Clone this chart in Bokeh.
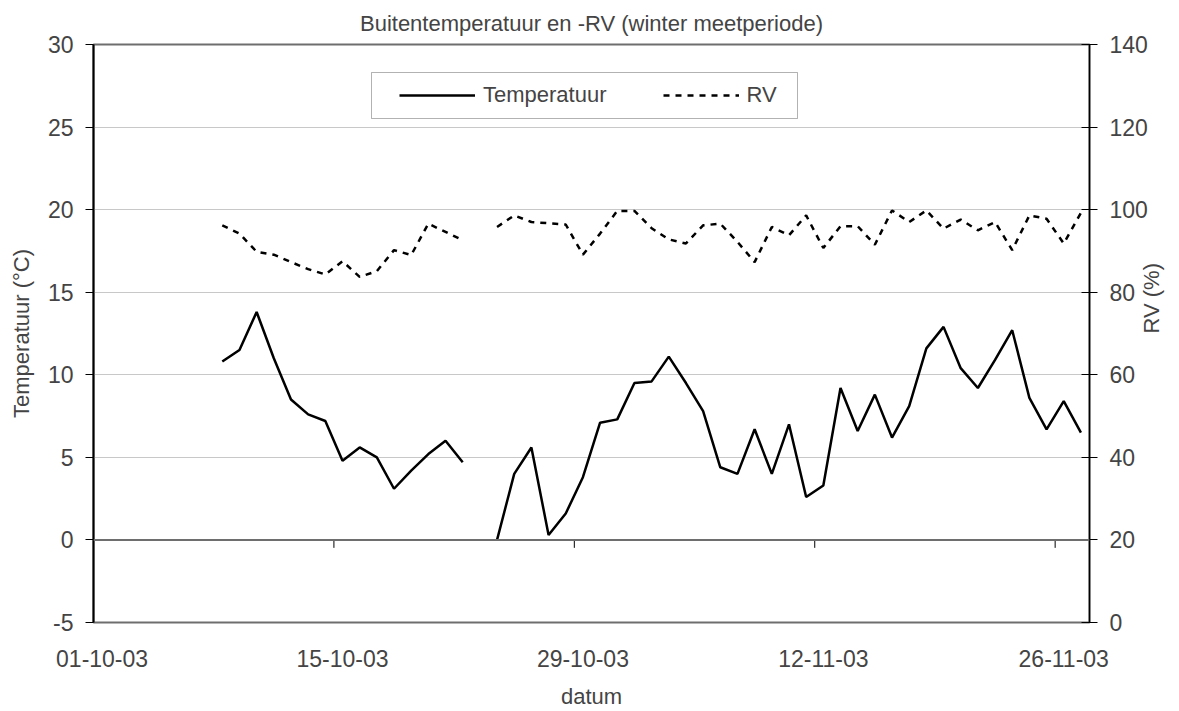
import numpy as np
import pandas as pd
from math import pi
from bokeh.plotting import figure
from bokeh.models import (Range1d, LinearAxis, FixedTicker, DatetimeTickFormatter,
                          Span, BoxAnnotation, ColumnDataSource)
from bokeh.embed import file_html
from bokeh.resources import INLINE

# ---------------- data ----------------
dates = ["08-10-2003", "09-10-2003", "10-10-2003", "11-10-2003", "12-10-2003",
         "13-10-2003", "14-10-2003", "15-10-2003", "16-10-2003", "17-10-2003",
         "18-10-2003", "19-10-2003", "20-10-2003", "21-10-2003", "22-10-2003",
         "23-10-2003", "24-10-2003", "25-10-2003", "26-10-2003", "27-10-2003",
         "28-10-2003", "29-10-2003", "30-10-2003", "31-10-2003", "01-11-2003",
         "02-11-2003", "03-11-2003", "04-11-2003", "05-11-2003", "06-11-2003",
         "07-11-2003", "08-11-2003", "09-11-2003", "10-11-2003", "11-11-2003",
         "12-11-2003", "13-11-2003", "14-11-2003", "15-11-2003", "16-11-2003",
         "17-11-2003", "18-11-2003", "19-11-2003", "20-11-2003", "21-11-2003",
         "22-11-2003", "23-11-2003", "24-11-2003", "25-11-2003", "26-11-2003",
         "27-11-2003"]

temperatuur = [10.8, 11.5, 13.8, 11.0, 8.5, 7.6, 7.2, 4.8, 5.6, 5.0,
               3.1, 4.2, 5.2, 6.0, 4.7, None, 0.0, 4.0, 5.6, 0.3,
               1.6, 3.8, 7.1, 7.3, 9.5, 9.6, 11.1, 9.5, 7.8, 4.4,
               4.0, 6.7, 4.0, 7.0, 2.6, 3.3, 9.2, 6.6, 8.8, 6.2,
               8.1, 11.6, 12.9, 10.4, 9.2, 10.9, 12.7, 8.6, 6.7, 8.4,
               6.5]

rv = [96.2, 94.2, 89.8, 89.1, 87.3, 85.6, 84.3, 87.5, 83.7, 85.1,
      90.2, 89.0, 96.6, 94.6, 92.6, None, 95.8, 98.6, 97.0, 96.7,
      96.4, 89.1, 94.2, 99.7, 99.7, 95.5, 92.8, 91.8, 96.2, 96.6,
      92.2, 87.3, 95.8, 93.8, 98.6, 90.7, 96.0, 96.0, 91.5, 99.8,
      97.0, 99.8, 95.4, 97.6, 95.0, 97.0, 90.2, 98.6, 97.8, 91.8,
      99.2]

tick_dates = ["01-10-2003", "15-10-2003", "29-10-2003", "12-11-2003", "26-11-2003"]
x_start, x_end = "01-10-2003", "28-11-2003"
temp_ticks = [-5, 0, 5, 10, 15, 20, 25, 30]
rv_ticks = [0, 20, 40, 60, 80, 100, 120, 140]

# ---------------- build ----------------
FONT = "Liberation Sans"
TICK_SIZE = "23px"
TEXT_SIZE = "22px"
half_day = pd.Timedelta(hours=12)  # Excel date axis: points centred within their day
x = pd.to_datetime(dates, format="%d-%m-%Y") + half_day
src = ColumnDataSource(dict(
    x=x,
    t=np.array([np.nan if v is None else v for v in temperatuur], dtype=float),
    rv=np.array([np.nan if v is None else v for v in rv], dtype=float),
))

tick_dt = pd.to_datetime(tick_dates, format="%d-%m-%Y")
label_ms = [(d + half_day).value / 1e6 for d in tick_dt]

p = figure(width=1179, height=711, x_axis_type="datetime",
           x_range=Range1d(pd.to_datetime(x_start, format="%d-%m-%Y"),
                           pd.to_datetime(x_end, format="%d-%m-%Y")),
           y_range=Range1d(temp_ticks[0], temp_ticks[-1]),
           output_backend="svg", toolbar_location=None,
           min_border_left=93, min_border_right=89,
           min_border_top=42, min_border_bottom=89,
           background_fill_color="white", border_fill_color="white")
p.extra_y_ranges = {"rv": Range1d(rv_ticks[0], rv_ticks[-1])}

p.title.text = "Buitentemperatuur en -RV (winter meetperiode)"
p.title.align = "center"
p.title.text_font = FONT
p.title.text_font_size = TEXT_SIZE
p.title.text_font_style = "normal"
p.title.standoff = 17

p.outline_line_color = "#6e6e6e"
p.outline_line_width = 2

p.xgrid.visible = False
p.ygrid.ticker = FixedTicker(ticks=[v for v in temp_ticks if v not in (temp_ticks[0], 0, temp_ticks[-1])])
p.ygrid.grid_line_color = "#c8c8c8"
p.ygrid.grid_line_width = 1

# left axis
ya = p.yaxis[0]
ya.ticker = FixedTicker(ticks=temp_ticks)
ya.major_label_overrides = {v: str(v) for v in temp_ticks}
ya.axis_label = "Temperatuur (°C)"
ya.axis_line_color = "black"
ya.axis_line_width = 2
ya.major_tick_in = 0
ya.major_tick_out = 8
ya.major_tick_line_color = "black"
ya.minor_tick_line_color = None
ya.major_label_standoff = 12
ya.axis_label_standoff = 11
ya.major_label_text_font = FONT
ya.major_label_text_font_size = TICK_SIZE
ya.axis_label_text_font = FONT
ya.axis_label_text_font_size = TEXT_SIZE
ya.axis_label_text_font_style = "normal"

# right axis
ra = LinearAxis(y_range_name="rv", ticker=FixedTicker(ticks=rv_ticks))
ra.axis_line_color = "black"
ra.axis_line_width = 1.5
ra.major_tick_in = 8
ra.major_tick_out = 8
ra.major_tick_line_color = "black"
ra.minor_tick_line_color = None
ra.major_label_standoff = 12
ra.major_label_text_font = FONT
ra.major_label_text_font_size = TICK_SIZE
ra.axis_label = "RV (%)"
ra.axis_label_standoff = 1
ra.axis_label_text_font = FONT
ra.axis_label_text_font_size = TEXT_SIZE
ra.axis_label_text_font_style = "normal"
if "axis_label_orientation" in ra.properties():
    # title reads bottom-to-top like the left one
    ra.axis_label_orientation = pi / 2
p.add_layout(ra, "right")

# bottom axis (labels only; labels centred within their day as in Excel)
xa = p.xaxis[0]
xa.ticker = FixedTicker(ticks=label_ms)
fmt = "%d-%m-%y"
xa.formatter = DatetimeTickFormatter(milliseconds=fmt, seconds=fmt, minsec=fmt, minutes=fmt,
                                     hourmin=fmt, hours=fmt, days=fmt, months=fmt, years=fmt)
xa.axis_line_color = None
xa.major_tick_line_color = None
xa.minor_tick_line_color = None
xa.major_tick_out = 0
xa.major_tick_in = 0
xa.major_label_standoff = 27
xa.axis_label = "datum"
xa.axis_label_standoff = 14
xa.major_label_text_font = FONT
xa.major_label_text_font_size = TICK_SIZE
xa.axis_label_text_font = FONT
xa.axis_label_text_font_size = TEXT_SIZE
xa.axis_label_text_font_style = "normal"

# category axis line at 0 with its tick marks
p.add_layout(Span(location=0, dimension="width", line_color="#6e6e6e", line_width=2))
tick_len = 0.48  # ~8px in temperature units
p.segment(x0=tick_dt[1:], y0=[0] * (len(tick_dt) - 1), x1=tick_dt[1:],
          y1=[-tick_len] * (len(tick_dt) - 1), line_color="black", line_width=1)

# legend box
box = BoxAnnotation(left=278, right=704, bottom=504, top=550,
                    left_units="screen", right_units="screen",
                    top_units="screen", bottom_units="screen",
                    fill_color="white", fill_alpha=1.0,
                    line_color="black", line_width=1, level="underlay")
p.add_layout(box)

# series
p.line("x", "t", source=src, line_color="black", line_width=2.5, legend_label="Temperatuur")
p.line("x", "rv", source=src, y_range_name="rv", line_color="black", line_width=2.5,
       line_dash="6 6", legend_label="RV")

lg = p.legend[0]
lg.orientation = "horizontal"
lg.location = (294, 502)
lg.label_text_font = FONT
lg.label_text_font_size = TEXT_SIZE
lg.glyph_width = 76
lg.glyph_height = 20
lg.label_standoff = 8
lg.spacing = 56
lg.padding = 12
lg.margin = 0
lg.border_line_alpha = 0
lg.background_fill_alpha = 0

open("out.html", "w").write(file_html(p, INLINE))
